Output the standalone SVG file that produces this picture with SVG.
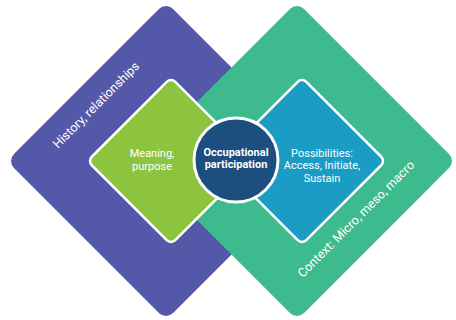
<svg xmlns="http://www.w3.org/2000/svg" width="456" height="320" viewBox="0 0 456 320">
  <style>
    text { font-family: Roboto, "Liberation Sans", sans-serif; fill: #ffffff; }
    .lbl { font-size: 11px; text-anchor: middle; }
    .ctr { font-size: 11px; font-weight: bold; text-anchor: middle; }
    .outer { font-size: 12.5px; text-anchor: middle; }
    .inner { stroke: #ffffff; stroke-width: 2.5; }
  </style>
  <rect width="456" height="320" fill="#ffffff"/>
  <g id="history">
    <rect x="-112.5" y="-112.5" width="225" height="225" rx="10" fill="#5458a8" transform="translate(166,161) rotate(45)"/>
    <text class="outer" transform="translate(99,108) rotate(-45)">History, relationships</text>
  </g>
  <g id="context">
    <rect x="-112.5" y="-112.5" width="225" height="225" rx="10" fill="#3dbb8f" transform="translate(297,161) rotate(45)"/>
    <text class="outer" transform="translate(359,222) rotate(-45)">Context: Micro, meso, macro</text>
  </g>
  <g id="meaning">
    <rect class="inner" x="-59" y="-59" width="118" height="118" rx="6" fill="#8cc43f" transform="translate(171,161) rotate(45)"/>
    <text class="lbl" x="152" y="157">Meaning,</text>
    <text class="lbl" x="152" y="169.5">purpose</text>
  </g>
  <g id="possibilities">
    <rect class="inner" x="-59" y="-59" width="118" height="118" rx="6" fill="#1a9cc4" transform="translate(302,161) rotate(45)"/>
    <text class="lbl" x="322" y="156.5">Possibilities:</text>
    <text class="lbl" x="322" y="169">Access, Initiate,</text>
    <text class="lbl" x="322" y="181.5">Sustain</text>
  </g>
  <g id="participation">
    <circle cx="236" cy="160" r="42" fill="#1c4e7e" stroke="#ffffff" stroke-width="3"/>
    <text class="ctr" x="236" y="156">Occupational</text>
    <text class="ctr" x="236" y="168">participation</text>
  </g>
  <g id="connectors"></g>
</svg>
